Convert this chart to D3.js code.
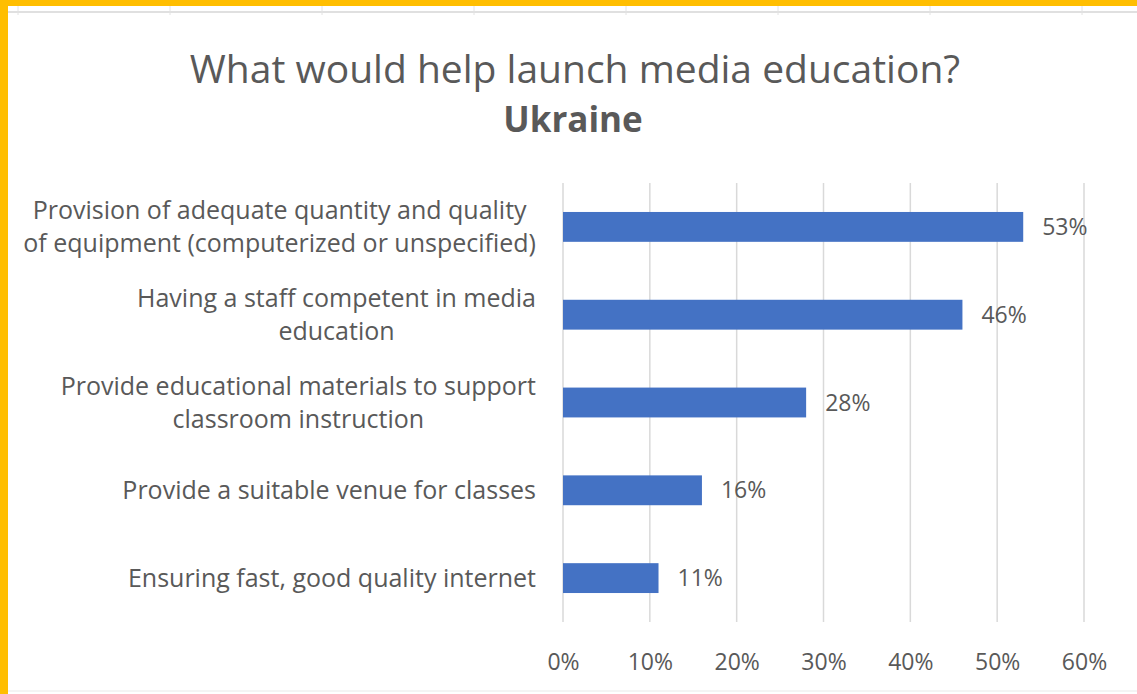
<!DOCTYPE html>
<html>
<head>
<meta charset="utf-8">
<script src="https://cdn.jsdelivr.net/npm/d3@7"></script>
<style>
  html, body { margin: 0; padding: 0; background: #fff; }
  svg { display: block; }
</style>
</head>
<body>
<svg id="chart" width="1137" height="694"></svg>
<script>
// Survey responses, Ukraine
const categories = [
  "Provision of adequate quantity and quality\nof equipment (computerized or unspecified)",
  "Having a staff competent in media\neducation",
  "Provide educational materials to support\nclassroom instruction",
  "Provide a suitable venue for classes",
  "Ensuring fast, good quality internet"
];
const values = [0.53, 0.46, 0.28, 0.16, 0.11];
const tickValues = [0, 0.1, 0.2, 0.3, 0.4, 0.5, 0.6];

const titleText = "What would help launch media education?";
const subtitleText = "Ukraine";

const W = 1137, H = 694;
const svg = d3.select("#chart");
const textColor = "#595959";
const font = "'Open Sans', sans-serif";

// Surrounding sheet frame: cell borders and highlight edges
const sheetCols = d3.range(18, W, 152);
svg.append("line").attr("x1", 8).attr("x2", W).attr("y1", 12).attr("y2", 12)
  .attr("stroke", "#d6d6d6").attr("stroke-width", 1.5);
svg.selectAll(".colline").data(sheetCols).join("line")
  .attr("x1", d => d).attr("x2", d => d).attr("y1", 6).attr("y2", 15)
  .attr("stroke", "#e2e2e2").attr("stroke-width", 1);
svg.append("line").attr("x1", 8).attr("x2", W).attr("y1", 691).attr("y2", 691)
  .attr("stroke", "#f0f0f0").attr("stroke-width", 1.5);
svg.append("rect").attr("x", 0).attr("y", 0).attr("width", W).attr("height", 6).attr("fill", "#FFBE00");
svg.append("rect").attr("x", 0).attr("y", 0).attr("width", 8).attr("height", H).attr("fill", "#FFBE00");

// Plot area
const plot = { left: 563, right: 1084, top: 183, bottom: 622 };

const x = d3.scaleLinear().domain([0, 0.6]).range([plot.left, plot.right]);
const y = d3.scaleBand().domain(d3.range(categories.length))
  .range([plot.top, plot.bottom]).paddingInner(0.66).paddingOuter(0.33);

// Vertical gridlines
svg.append("g").selectAll("line").data(tickValues).join("line")
  .attr("x1", d => x(d)).attr("x2", d => x(d))
  .attr("y1", plot.top).attr("y2", plot.bottom)
  .attr("stroke", "#d9d9d9").attr("stroke-width", 1.5);

// X axis tick labels
const xAxis = d3.axisBottom(x).tickValues(tickValues).tickFormat(d3.format(".0%")).tickSize(0).tickPadding(0);
const gx = svg.append("g").attr("transform", `translate(0,${plot.bottom + 48})`).call(xAxis);
gx.select(".domain").remove();
gx.selectAll("text").attr("dy", 0).attr("fill", textColor)
  .style("font-family", font).style("font-size", "23px");

// Bars
svg.append("g").selectAll("rect").data(values).join("rect")
  .attr("x", x(0))
  .attr("y", (d, i) => y(i))
  .attr("width", d => x(d) - x(0))
  .attr("height", y.bandwidth())
  .attr("fill", "#4472C4");

// Value labels
svg.append("g").selectAll("text").data(values).join("text")
  .attr("x", d => x(d) + 19)
  .attr("y", (d, i) => y(i) + y.bandwidth() / 2)
  .attr("dy", "0.35em")
  .attr("fill", textColor)
  .style("font-family", font).style("font-size", "23px")
  .text(d => d3.format(".0%")(d));

// Category labels: each block right-aligned to the axis, lines centred within the block
const lineH = 33;
const labelRight = 536;
const cat = svg.append("g").selectAll("text").data(categories).join("text")
  .attr("text-anchor", "middle")
  .attr("fill", textColor)
  .style("font-family", font).style("font-size", "25px");
cat.each(function(d, i) {
  const lines = d.split("\n");
  const cy = y(i) + y.bandwidth() / 2;
  const start = cy - (lines.length - 1) * lineH / 2;
  const spans = d3.select(this).selectAll("tspan").data(lines).join("tspan")
    .attr("y", (l, k) => start + k * lineH)
    .attr("dy", "0.35em")
    .text(l => l);
  const widest = d3.max(spans.nodes(), n => n.getComputedTextLength());
  spans.attr("x", labelRight - widest / 2);
});

// Titles
svg.append("text").attr("x", 575).attr("y", 83).attr("text-anchor", "middle")
  .attr("fill", textColor).style("font-family", font).style("font-size", "39px")
  .text(titleText);
svg.append("text").attr("x", 573).attr("y", 132).attr("text-anchor", "middle")
  .attr("fill", textColor).style("font-family", font).style("font-size", "35px")
  .style("font-weight", "bold")
  .text(subtitleText);
</script>
</body>
</html>
